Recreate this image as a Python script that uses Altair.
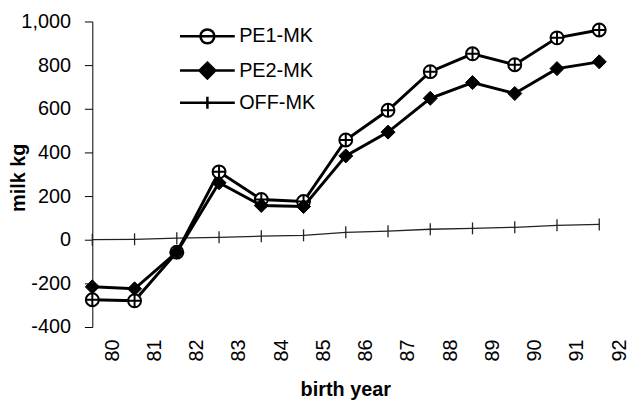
import altair as alt
import pandas as pd

# ---- data ----
years = [80, 81, 82, 83, 84, 85, 86, 87, 88, 89, 90, 91, 92]
pe1_mk = [-275, -280, -57, 311, 184, 175, 457, 593, 770, 852, 802, 925, 961]
pe2_mk = [-216, -225, -57, 261, 157, 152, 384, 493, 648, 720, 670, 784, 815]
off_mk = [0, 2, 7, 11, 16, 20, 34, 39, 48, 52, 57, 66, 70]
series_names = ["PE1-MK", "PE2-MK", "OFF-MK"]
y_ticks = [-400, -200, 0, 200, 400, 600, 800, 1000]
year_labels = [str(y) for y in years]

rows = []
for name, vals in zip(series_names, [pe1_mk, pe2_mk, off_mk]):
    for yr, v in zip(years, vals):
        rows.append({"year": str(yr), "series": name, "value": v})
df = pd.DataFrame(rows)

FONT = "Liberation Sans"

x_enc = alt.X(
    "year:O",
    sort=year_labels,
    scale=alt.Scale(type="point", padding=0),
    axis=alt.Axis(
        title="birth year",
        labelAngle=270,
        labelOffset=20,
        labelPadding=12,
        ticks=False,
        tickSize=0,
        domain=False,
        labelFontSize=20,
        labelColor="black",
        titleFontSize=20,
        titleFontWeight="bold",
        titleColor="black",
        titleX=255,
        titleY=69,
        titleBaseline="alphabetic",
    ),
)
y_enc = alt.Y(
    "value:Q",
    scale=alt.Scale(domain=[-400, 1000], nice=False, zero=False),
    axis=alt.Axis(
        title="milk kg",
        values=y_ticks,
        labelExpr="datum.value < 0 ? '-' + format(-datum.value, ',') : format(datum.value, ',')",
        grid=False,
        tickSize=8,
        tickColor="black",
        domainColor="black",
        labelPadding=14,
        labelFontSize=20,
        labelColor="black",
        titleFontSize=20,
        titleFontWeight="bold",
        titleColor="black",
        titleX=-74,
        titleY=157,
        titleAngle=270,
        titleAlign="center",
        titleBaseline="middle",
    ),
)

base = alt.Chart(df)

def sel(name):
    return alt.datum.series == name

pe1_path = "M-1,0A1,1 0 1,0 1,0A1,1 0 1,0 -1,0M-1,0L1,0M0,-1L0,1"
off_path = "M0,-1L0,1"

line_pe1 = base.transform_filter(sel("PE1-MK")).mark_line(color="black", strokeWidth=3).encode(x=x_enc, y=y_enc)
line_pe2 = base.transform_filter(sel("PE2-MK")).mark_line(color="black", strokeWidth=3).encode(x=x_enc, y=y_enc)
line_off = base.transform_filter(sel("OFF-MK")).mark_line(color="#222222", strokeWidth=1.3).encode(x=x_enc, y=y_enc)

pts_pe1 = base.transform_filter(sel("PE1-MK")).mark_point(
    shape=pe1_path, size=169, filled=False, fill="white", fillOpacity=1,
    stroke="black", strokeWidth=2, opacity=1
).encode(x=x_enc, y=y_enc)
pts_pe2 = base.transform_filter(sel("PE2-MK")).mark_point(
    shape="diamond", size=200, filled=True, color="black", opacity=1,
    stroke="black", strokeWidth=1
).encode(x=x_enc, y=y_enc)
pts_off = base.transform_filter(sel("OFF-MK")).mark_point(
    shape=off_path, size=144, filled=False, stroke="#222222", strokeWidth=1.3, opacity=1
).encode(x=x_enc, y=y_enc)

# legend symbols: line segment with marker
leg_pe1 = "M-4.6,0L4.6,0M-1.17,0A1.17,1.17 0 1,0 1.17,0A1.17,1.17 0 1,0 -1.17,0"
leg_pe2 = "M-4.6,0L4.6,0M0,-1.33L1.33,0L0,1.33L-1.33,0Z"
leg_off = "M-4.6,0L4.6,0M0,-1L0,1"

legend_layer = base.mark_point(size=144).encode(
    x=x_enc,
    y=y_enc,
    shape=alt.Shape("series:N", title=None,
                    scale=alt.Scale(domain=series_names, range=[leg_pe1, leg_pe2, leg_off])),
    fill=alt.Fill("series:N", title=None,
                  scale=alt.Scale(domain=series_names, range=["white", "black", "transparent"])),
    stroke=alt.Stroke("series:N", title=None,
                      scale=alt.Scale(domain=series_names, range=["black", "black", "black"])),
    opacity=alt.value(0),
)

chart = alt.layer(
    line_off, pts_off, line_pe1, pts_pe1, line_pe2, pts_pe2, legend_layer
).properties(
    width=511,
    height=308,
    autosize=alt.AutoSizeParams(type="none"),
    padding={"left": 85, "top": 12, "right": 30, "bottom": 74},
).configure(
    font=FONT,
).configure_view(
    strokeWidth=0,
).configure_legend(
    orient="none",
    legendX=106,
    legendY=5,
    padding=0,
    symbolSize=144,
    symbolStrokeWidth=2.5,
    symbolOpacity=1,
    labelFontSize=20,
    labelColor="black",
    labelFont=FONT,
    labelOffset=22,
    rowPadding=8.5,
)

chart.save("out.html", embed_options={"renderer": "svg", "actions": False})
